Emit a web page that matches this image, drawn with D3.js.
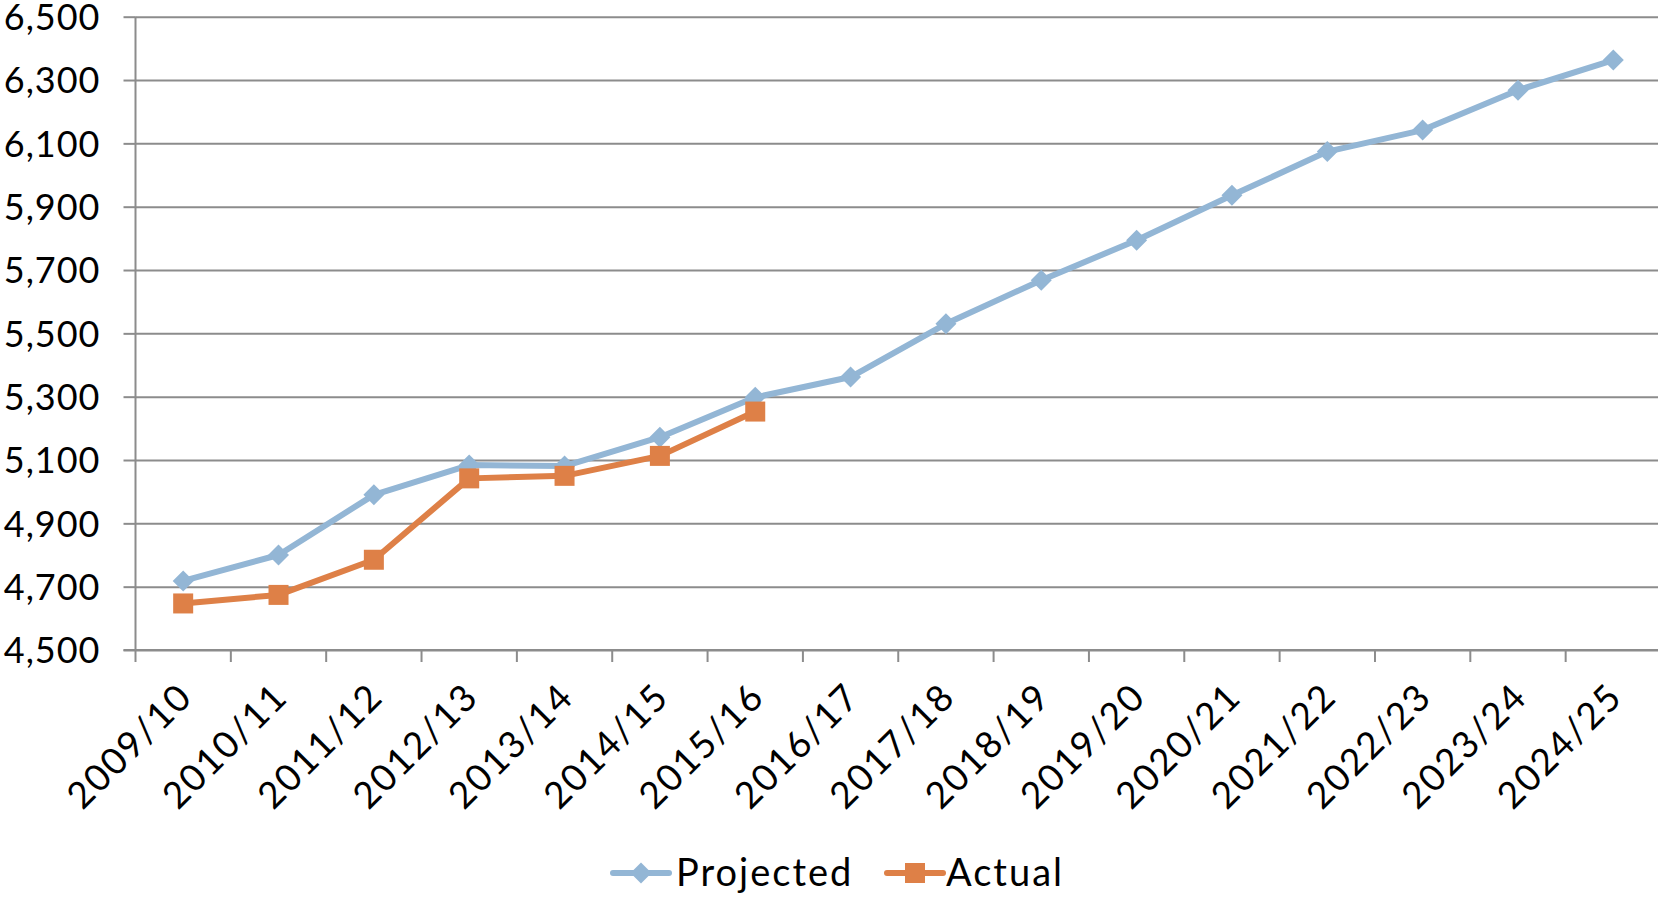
<!DOCTYPE html>
<html>
<head>
<meta charset="utf-8">
<script src="https://cdn.jsdelivr.net/npm/d3@7"></script>
<style>
  html, body { margin: 0; padding: 0; background: #ffffff; overflow: hidden; }
  svg { display: block; font-family: "Century Gothic", "Lato", sans-serif; }
</style>
</head>
<body>
<svg id="chart" width="1658" height="898"></svg>
<script>
// Academic years on the category axis
const years = ["2009/10", "2010/11", "2011/12", "2012/13", "2013/14", "2014/15", "2015/16", "2016/17",
               "2017/18", "2018/19", "2019/20", "2020/21", "2021/22", "2022/23", "2023/24", "2024/25"];
// Projected series (all years)
const projected = [4718, 4800, 4990, 5084, 5081, 5172, 5298, 5362, 5530, 5668, 5794, 5936, 6074, 6142, 6268, 6363];
// Actual series (outturn years only)
const actual = [4647, 4674, 4785, 5042, 5050, 5113, 5253];
// Value axis ticks
const yTicks = [4500, 4700, 4900, 5100, 5300, 5500, 5700, 5900, 6100, 6300, 6500];

const seriesNames = ["Projected", "Actual"];
const colors = { Projected: "#93b6d5", Actual: "#de8047" };
const gridColor = "#8c8c8c";
const fontFamily = "Lato, sans-serif";

const svg = d3.select("#chart");
const plotLeft = 135.5, plotRight = 1661, plotTop = 16.7, plotBottom = 650;

const x = d3.scaleBand().domain(years).range([plotLeft, plotRight]).paddingInner(0).paddingOuter(0);
const cx = d => x(d) + x.bandwidth() / 2;
const y = d3.scaleLinear().domain([4500, 6500]).range([plotBottom, plotTop]);

// Horizontal gridlines + y-axis labels
const yAxis = d3.axisLeft(y).tickValues(yTicks).tickFormat(d3.format(",")).tickSize(12).tickPadding(23);
const gy = svg.append("g").attr("transform", `translate(${plotLeft},0)`).call(yAxis);
gy.select(".domain").remove();
gy.selectAll(".tick line").attr("stroke", gridColor).attr("stroke-width", 2);
gy.selectAll(".tick text").attr("fill", "#000").attr("font-size", 36)
  .attr("font-family", fontFamily).attr("letter-spacing", 1).attr("dy", "0.36em");
gy.selectAll(".tick").append("line")
  .attr("x1", 0).attr("x2", plotRight - plotLeft).attr("y1", 0).attr("y2", 0)
  .attr("stroke", gridColor).attr("stroke-width", 2);

// Vertical axis line
svg.append("line").attr("x1", plotLeft).attr("x2", plotLeft).attr("y1", plotTop).attr("y2", plotBottom)
  .attr("stroke", gridColor).attr("stroke-width", 2);

// Category tick marks at band edges
const edges = years.map(d => x(d)).concat([x(years[years.length - 1]) + x.bandwidth()]);
svg.append("g").selectAll("line").data(edges).join("line")
  .attr("x1", d => d).attr("x2", d => d).attr("y1", plotBottom).attr("y2", plotBottom + 12)
  .attr("stroke", gridColor).attr("stroke-width", 2);
svg.append("line").attr("x1", plotLeft - 12).attr("x2", plotRight).attr("y1", plotBottom).attr("y2", plotBottom)
  .attr("stroke", gridColor).attr("stroke-width", 2);

// Rotated category labels
svg.append("g").selectAll("text").data(years).join("text")
  .attr("transform", d => `translate(${cx(d) + 2},${plotBottom + 40}) rotate(-45)`)
  .attr("text-anchor", "end")
  .attr("dy", "0.35em")
  .attr("font-size", 37)
  .attr("letter-spacing", 1.8)
  .attr("font-family", fontFamily)
  .attr("fill", "#000")
  .text(d => d);

const line = d3.line().x(d => cx(d.year)).y(d => y(d.value));
const projData = years.map((yr, i) => ({ year: yr, value: projected[i] }));
const actData = actual.map((v, i) => ({ year: years[i], value: v }));

const diamond = s => `M0,${-s}L${s},0L0,${s}L${-s},0Z`;

// Projected line with diamond markers
svg.append("path").datum(projData).attr("d", line)
  .attr("fill", "none").attr("stroke", colors.Projected).attr("stroke-width", 6).attr("stroke-linejoin", "round");
svg.append("g").selectAll("path").data(projData).join("path")
  .attr("transform", d => `translate(${cx(d.year)},${y(d.value)})`)
  .attr("d", diamond(10.5)).attr("fill", colors.Projected);

// Actual line with square markers
svg.append("path").datum(actData).attr("d", line)
  .attr("fill", "none").attr("stroke", colors.Actual).attr("stroke-width", 6).attr("stroke-linejoin", "round");
svg.append("g").selectAll("rect").data(actData).join("rect")
  .attr("x", d => cx(d.year) - 10).attr("y", d => y(d.value) - 10)
  .attr("width", 20).attr("height", 20).attr("fill", colors.Actual);

// Legend
const legendItems = [
  { name: seriesNames[0], x0: 613, x1: 669, tx: 676 },
  { name: seriesNames[1], x0: 887, x1: 943, tx: 946 }
];
const ly = 873;
const lg = svg.append("g");
legendItems.forEach(it => {
  const c = colors[it.name];
  lg.append("line").attr("x1", it.x0).attr("x2", it.x1).attr("y1", ly).attr("y2", ly)
    .attr("stroke", c).attr("stroke-width", 6).attr("stroke-linecap", "round");
  const mx = (it.x0 + it.x1) / 2;
  if (it.name === "Projected") {
    lg.append("path").attr("transform", `translate(${mx},${ly})`).attr("d", diamond(10.5)).attr("fill", c);
  } else {
    lg.append("rect").attr("x", mx - 10).attr("y", ly - 10).attr("width", 20).attr("height", 20).attr("fill", c);
  }
  lg.append("text").attr("x", it.tx).attr("y", 886).attr("font-size", 38).attr("letter-spacing", 2)
    .attr("font-family", fontFamily).attr("fill", "#000").text(it.name);
});
</script>
</body>
</html>
